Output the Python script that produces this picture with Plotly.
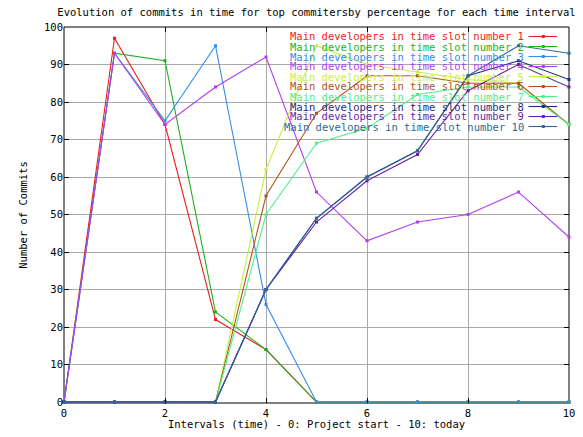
import plotly.graph_objects as go

# Time intervals (0 = project start, 10 = today)
intervals = list(range(11))

# Share of commits of the main developers of each time slot, per interval
slot_1 = [0, 97, 74, 22, 14, 0, 0, 0, 0, 0, 0]
slot_2 = [0, 93, 91, 24, 14, 0, 0, 0, 0, 0, 0]
slot_3 = [0, 93, 75, 95, 26, 0, 0, 0, 0, 0, 0]
slot_4 = [0, 93, 74, 84, 92, 56, 43, 48, 50, 56, 44]
slot_5 = [0, 0, 0, 0, 62, 95, 90, 88, 86, 85, 74]
slot_6 = [0, 0, 0, 0, 55, 77, 87, 87, 85, 85, 74]
slot_7 = [0, 0, 0, 0, 50, 69, 73, 82, 84, 84, 74]
slot_8 = [0, 0, 0, 0, 30, 49, 60, 67, 87, 91, 86]
slot_9 = [0, 0, 0, 0, 30, 48, 59, 66, 83, 90, 84]
slot_10 = [0, 0, 0, 0, 30, 49, 60, 67, 87, 95, 93]

series = [slot_1, slot_2, slot_3, slot_4, slot_5,
          slot_6, slot_7, slot_8, slot_9, slot_10]
names = [f"Main developers in time slot number {i}" for i in range(1, 11)]
colors = ["#ee1c1c", "#1fb01f", "#2f8ee8", "#b03ef0", "#c8f040",
          "#b0521e", "#4cf08c", "#1e2a84", "#6a1ea6", "#2e6a92"]

MONO = "DejaVu Sans Mono"

fig = go.Figure()
for vals, name, col in zip(series, names, colors):
    fig.add_trace(go.Scatter(
        x=intervals, y=vals, name=name, mode="lines+markers",
        line=dict(color=col, width=1.1),
        marker=dict(color=col, size=3, symbol="square"),
        cliponaxis=False, showlegend=False,
    ))

# Key in the upper right: right-aligned label followed by a line sample
shapes = []
annotations = []
row_top = 36.5      # px from top of figure for first row
row_gap = 10.0
H = 437.0
top_m, bot_m = 27.0, 34.0
ph = H - top_m - bot_m
left_m, right_m = 64.0, 8.0
pw = 583.0 - left_m - right_m


def px_to_paper_x(px):
    return (px - left_m) / pw


def px_to_paper_y(py):
    return (H - bot_m - py) / ph


for i, (name, col) in enumerate(zip(names, colors)):
    yy = px_to_paper_y(row_top + i * row_gap)
    annotations.append(dict(
        xref="paper", yref="paper", x=px_to_paper_x(531), y=yy,
        text=name, showarrow=False, xanchor="right", yanchor="middle",
        font=dict(family=MONO, size=10.5, color=col),
    ))
    shapes.append(dict(
        type="line", xref="paper", yref="paper",
        x0=px_to_paper_x(534), x1=px_to_paper_x(563), y0=yy, y1=yy,
        line=dict(color=col, width=1.1),
    ))
    shapes.append(dict(
        type="rect", xref="paper", yref="paper",
        x0=px_to_paper_x(547.5), x1=px_to_paper_x(550.5),
        y0=yy - 1.5 / ph, y1=yy + 1.5 / ph,
        line=dict(width=0), fillcolor=col,
    ))

# Plot frame
shapes.append(dict(type="rect", xref="paper", yref="paper",
                   x0=0, x1=1, y0=0, y1=1, layer="below",
                   line=dict(color="black", width=1)))

fig.update_layout(
    width=583, height=437,
    margin=dict(l=int(left_m), r=int(right_m), t=int(top_m), b=int(bot_m)),
    paper_bgcolor="white", plot_bgcolor="white",
    font=dict(family=MONO, size=10, color="black"),
    title=dict(
        text="Evolution of commits in time for top commitersby percentage for each time interval",
        x=0.5, xref="paper", y=1 - 12.5 / H, yanchor="middle",
        font=dict(family=MONO, size=10.5, color="black"),
    ),
    shapes=shapes, annotations=annotations,
)
fig.update_xaxes(
    range=[0, 10], tickvals=[0, 2, 4, 6, 8, 10], ticks="inside", ticklen=5,
    tickcolor="black", mirror="ticks", showline=False,
    showgrid=True, gridcolor="#a8a8a8", gridwidth=1, zeroline=False,
    ticklabelstandoff=2,
    title=dict(text="Intervals (time) - 0: Project start - 10: today",
               font=dict(family=MONO, size=10.5), standoff=3),
    tickfont=dict(family=MONO, size=10.5),
)
fig.update_yaxes(
    range=[-0.25, 100], tickvals=list(range(0, 101, 10)), ticks="inside",
    ticklen=5, tickcolor="black", mirror="ticks", showline=False,
    showgrid=True, gridcolor="#a8a8a8", gridwidth=1, zeroline=False,
    title=dict(text="Number of Commits", font=dict(family=MONO, size=10.5),
               standoff=14),
    tickfont=dict(family=MONO, size=10.5),
)

fig.write_html("out.html")
